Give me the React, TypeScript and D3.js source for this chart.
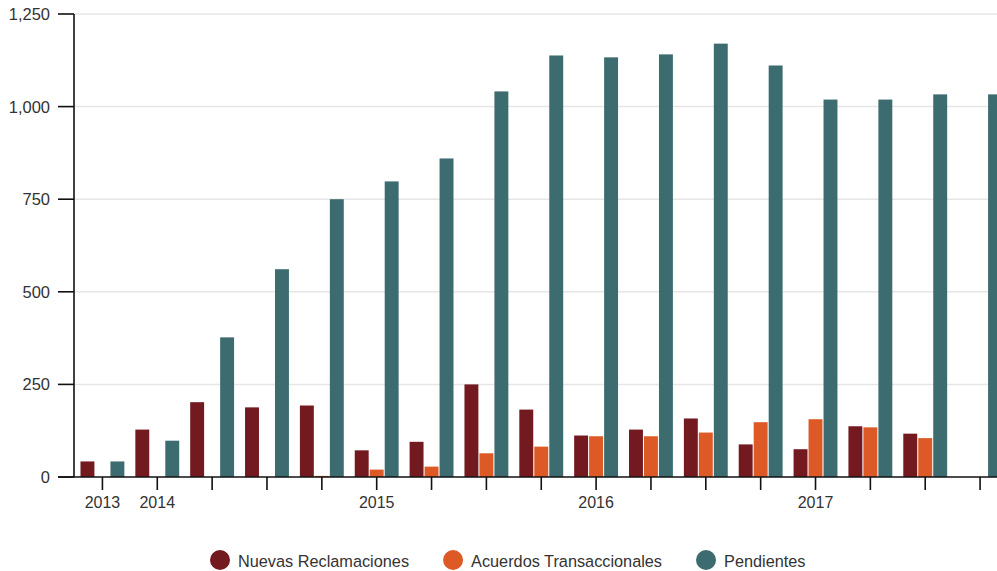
import { useEffect, useRef } from 'react';
import * as d3 from 'd3';

const WIDTH = 997;
const HEIGHT = 571;

// quarters, 2013 T4 .. 2017 T4
const quarters = [
  '2013-T4',
  '2014-T1', '2014-T2', '2014-T3', '2014-T4',
  '2015-T1', '2015-T2', '2015-T3', '2015-T4',
  '2016-T1', '2016-T2', '2016-T3', '2016-T4',
  '2017-T1', '2017-T2', '2017-T3', '2017-T4',
];

const tickLabels: Record<string, string> = {
  '2013-T4': '2013',
  '2014-T1': '2014',
  '2015-T1': '2015',
  '2016-T1': '2016',
  '2017-T1': '2017',
};

const nuevas = [42, 128, 202, 188, 193, 72, 95, 250, 182, 112, 128, 158, 88, 75, 137, 117, 0];
const acuerdos = [0, 0, 0, 0, 3, 20, 28, 64, 82, 110, 110, 120, 148, 156, 134, 105, 0];
const pendientes = [42, 98, 377, 561, 750, 798, 860, 1041, 1138, 1133, 1141, 1170, 1111, 1019, 1019, 1033, 1033];

const seriesNames = ['Nuevas Reclamaciones', 'Acuerdos Transaccionales', 'Pendientes'];
const seriesColors = ['#731a20', '#dd5926', '#3d6c70'];
const seriesValues = [nuevas, acuerdos, pendientes];

const yTicks = [0, 250, 500, 750, 1000, 1250];

const FONT = '"Liberation Sans", Arial, sans-serif';

export default function App() {
  const svgRef = useRef<SVGSVGElement>(null);

  useEffect(() => {
    if (!svgRef.current) return;
    document.body.style.margin = '0';

    const svg = d3.select(svgRef.current);
    svg.selectAll('*').remove();

    const x0 = d3.scaleBand<string>()
      .domain(quarters)
      .range([75, 1007.5])
      .paddingInner(0.2)
      .paddingOuter(0.1);

    const x1 = d3.scaleBand<string>()
      .domain(seriesNames)
      .range([0, x0.bandwidth()])
      .paddingInner(0.07);

    const y = d3.scaleLinear().domain([0, 1250]).range([477, 14]);

    // gridlines
    svg.append('g')
      .selectAll('line')
      .data(yTicks.filter(d => d > 0))
      .join('line')
      .attr('x1', 74)
      .attr('x2', WIDTH)
      .attr('y1', d => y(d))
      .attr('y2', d => y(d))
      .attr('stroke', '#e6e6e6')
      .attr('stroke-width', 1.5);

    // bars
    const groups = svg.append('g')
      .selectAll('g')
      .data(quarters)
      .join('g')
      .attr('transform', d => `translate(${x0(d)},0)`);

    groups.selectAll('rect')
      .data((_, i) => seriesNames.map((name, s) => ({ name, color: seriesColors[s], value: seriesValues[s][i] })))
      .join('rect')
      .attr('x', d => x1(d.name) ?? 0)
      .attr('width', x1.bandwidth())
      .attr('y', d => y(d.value))
      .attr('height', d => y(0) - y(d.value))
      .attr('fill', d => d.color);

    // y axis
    const yAxis = svg.append('g');
    yAxis.append('line')
      .attr('x1', 74).attr('x2', 74)
      .attr('y1', y(1250)).attr('y2', y(0))
      .attr('stroke', '#111').attr('stroke-width', 1.6);
    yAxis.selectAll('line.tick')
      .data(yTicks)
      .join('line')
      .attr('class', 'tick')
      .attr('x1', 58).attr('x2', 74)
      .attr('y1', d => y(d)).attr('y2', d => y(d))
      .attr('stroke', '#111').attr('stroke-width', 1.6);
    yAxis.selectAll('text')
      .data(yTicks)
      .join('text')
      .attr('x', 50)
      .attr('y', d => y(d))
      .attr('dy', '0.36em')
      .attr('text-anchor', 'end')
      .attr('font-family', FONT)
      .attr('font-size', 16.5)
      .attr('fill', '#333')
      .text(d => d3.format(',')(d));

    // x axis
    const xAxis = svg.append('g');
    xAxis.append('line')
      .attr('x1', 58).attr('x2', WIDTH)
      .attr('y1', y(0)).attr('y2', y(0))
      .attr('stroke', '#111').attr('stroke-width', 1.6);
    xAxis.selectAll('line.tick')
      .data(quarters)
      .join('line')
      .attr('class', 'tick')
      .attr('x1', d => (x0(d) ?? 0) + x0.bandwidth() / 2)
      .attr('x2', d => (x0(d) ?? 0) + x0.bandwidth() / 2)
      .attr('y1', y(0)).attr('y2', y(0) + 13)
      .attr('stroke', '#111').attr('stroke-width', 1.6);
    xAxis.selectAll('text')
      .data(quarters.filter(q => tickLabels[q]))
      .join('text')
      .attr('x', d => (x0(d) ?? 0) + x0.bandwidth() / 2)
      .attr('y', 507.5)
      .attr('text-anchor', 'middle')
      .attr('font-family', FONT)
      .attr('font-size', 16)
      .attr('fill', '#333')
      .text(d => tickLabels[d]);

    // legend
    const legend = svg.append('g');
    let cx = 210;
    seriesNames.forEach((name, i) => {
      legend.append('circle')
        .attr('cx', cx + 10)
        .attr('cy', 560)
        .attr('r', 10)
        .attr('fill', seriesColors[i]);
      const t = legend.append('text')
        .attr('x', cx + 28)
        .attr('y', 566.5)
        .attr('font-family', FONT)
        .attr('font-size', 16.3)
        .attr('fill', '#333')
        .text(name);
      const w = (t.node() as SVGTextElement).getComputedTextLength();
      cx = cx + 28 + w + 34;
    });
  }, []);

  return (
    <svg
      ref={svgRef}
      width={WIDTH}
      height={HEIGHT}
      style={{ display: 'block', position: 'absolute', left: 0, top: 0 }}
    />
  );
}
